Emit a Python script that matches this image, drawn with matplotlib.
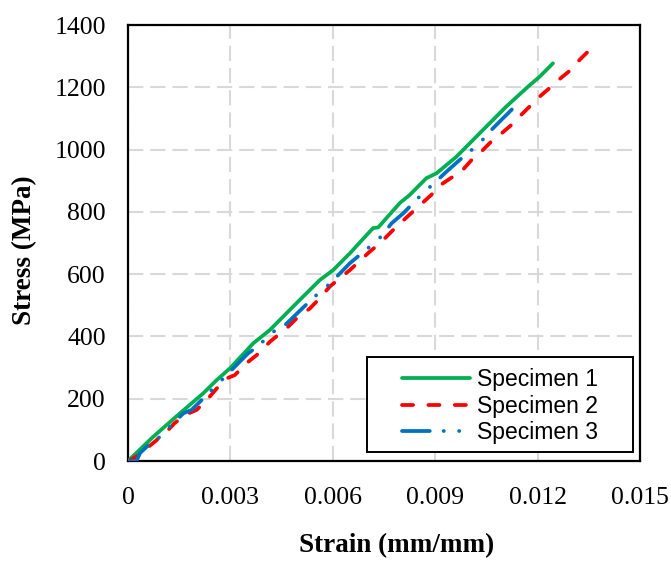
import matplotlib
matplotlib.use("Agg")
import matplotlib.pyplot as plt
from matplotlib.patches import Rectangle

# ---- data ----
s1_strain = [0, 0.00074, 0.00152, 0.0022, 0.0026, 0.00299, 0.00367, 0.00416, 0.00503, 0.00562,
             0.00601, 0.0065, 0.00718, 0.00733, 0.00796, 0.00825, 0.00874, 0.00904, 0.00962,
             0.0104, 0.01108, 0.01177, 0.01206, 0.01245]
s1_stress = [0, 78, 153, 217, 260, 298, 378, 421, 517, 581,
             613, 667, 748, 750, 828, 854, 908, 924, 977,
             1063, 1138, 1207, 1234, 1277]

s2_strain = [0, 0.0001, 0.0003, 0.00055, 0.00084, 0.00105, 0.00118, 0.00135, 0.00167, 0.00201,
             0.00235, 0.0026, 0.00289, 0.00313, 0.00347, 0.00377, 0.00416, 0.00469, 0.00494,
             0.00533, 0.00557, 0.00591, 0.0065, 0.00708, 0.00738, 0.00786, 0.00845, 0.00894,
             0.00908, 0.00952, 0.00972, 0.01011, 0.0103, 0.01069, 0.01089, 0.01123, 0.01147,
             0.01181, 0.01206, 0.01245, 0.01264, 0.01303, 0.01323, 0.01347, 0.01357, 0.01367]
s2_stress = [0, 5, 18, 41, 67, 95, 100, 120, 148, 164,
             201, 233, 265, 276, 314, 340, 383, 431, 458,
             490, 517, 560, 613, 672, 699, 752, 811, 860,
             881, 913, 924, 972, 988, 1031, 1047, 1079, 1106,
             1143, 1170, 1207, 1226, 1261, 1288, 1314, 1325, 1320]

s3_strain = [0, 0.00025, 0.00035, 0.00055, 0.00094, 0.00128, 0.00162, 0.00186, 0.00216, 0.0026,
             0.00289, 0.00323, 0.00352, 0.00386, 0.00416, 0.00455, 0.00503, 0.00547, 0.00582,
             0.00616, 0.0065, 0.00708, 0.00743, 0.00772, 0.00806, 0.00864, 0.00899, 0.00933,
             0.00972, 0.0103, 0.0106, 0.01089, 0.01123, 0.01147]
s3_stress = [0, 0, 25, 46, 78, 116, 153, 164, 196, 244,
             276, 314, 346, 372, 410, 431, 482, 528, 560,
             597, 635, 688, 722, 763, 795, 860, 894, 929,
             967, 1020, 1058, 1090, 1127, 1154]

series_names = ["Specimen 1", "Specimen 2", "Specimen 3"]
x_ticks = [0, 0.003, 0.006, 0.009, 0.012, 0.015]
x_tick_labels = ["0", "0.003", "0.006", "0.009", "0.012", "0.015"]
y_ticks = [0, 200, 400, 600, 800, 1000, 1200, 1400]

plt.rcParams['lines.scale_dashes'] = False

fig = plt.figure(figsize=(6.71, 5.62), dpi=100)
ax = fig.add_axes([128/671, 1 - 461/562, 512/671, 436/562])

lw = 2.7
ax.plot(s1_strain, s1_stress, color="#00B050", lw=lw, solid_capstyle='round',
        solid_joinstyle='round', label=series_names[0], zorder=3)
ax.plot(s2_strain, s2_stress, color="#FF0000", lw=lw, dashes=(8, 11),
        dash_capstyle='round', dash_joinstyle='round', label=series_names[1], zorder=4)
ax.plot(s3_strain, s3_stress, color="#0070C0", lw=lw, dashes=(20, 10, 0.1, 11, 0.1, 10),
        dash_capstyle='round', dash_joinstyle='round', label=series_names[2], zorder=5)

ax.set_xlim(0, 0.015)
ax.set_ylim(0, 1400)
ax.set_xticks(x_ticks)
ax.set_xticklabels(x_tick_labels)
ax.set_yticks(y_ticks)

ax.grid(True, color="#D9D9D9", lw=1.5, dashes=(11, 5))
ax.set_axisbelow(True)

serif = ["Liberation Serif", "DejaVu Serif"]
ax.tick_params(axis='both', length=0, labelsize=18.5)
ax.tick_params(axis='x', pad=19)
ax.tick_params(axis='y', pad=16)
for lab in ax.get_xticklabels() + ax.get_yticklabels():
    lab.set_fontfamily(serif)

for sp in ax.spines.values():
    sp.set_color("black")
    sp.set_linewidth(1.6)

ax.set_xlabel("Strain (mm/mm)", fontsize=19.5, fontweight='bold', family=serif)
ax.set_ylabel("Stress (MPa)", fontsize=19.5, fontweight='bold', family=serif)
ax.xaxis.set_label_coords(0.525, -0.193)
ax.xaxis.label.set_verticalalignment('center')
ax.yaxis.set_label_coords(-0.201, 0.484)
ax.yaxis.label.set_verticalalignment('center')

# legend frame
rect = Rectangle((0.467, 0.0206), 0.519, 0.218, transform=ax.transAxes,
                 facecolor="white", edgecolor="black", lw=1.4, zorder=6)
ax.add_patch(rect)
leg = ax.legend(loc='center', bbox_to_anchor=(0.7266, 0.126), frameon=False,
                prop={'family': ['Liberation Sans', 'DejaVu Sans'], 'size': 16.5},
                handlelength=3.0, handletextpad=0.3, labelspacing=0.15, borderpad=0)
leg.set_zorder(7)

fig.savefig("out.png", dpi=100)
